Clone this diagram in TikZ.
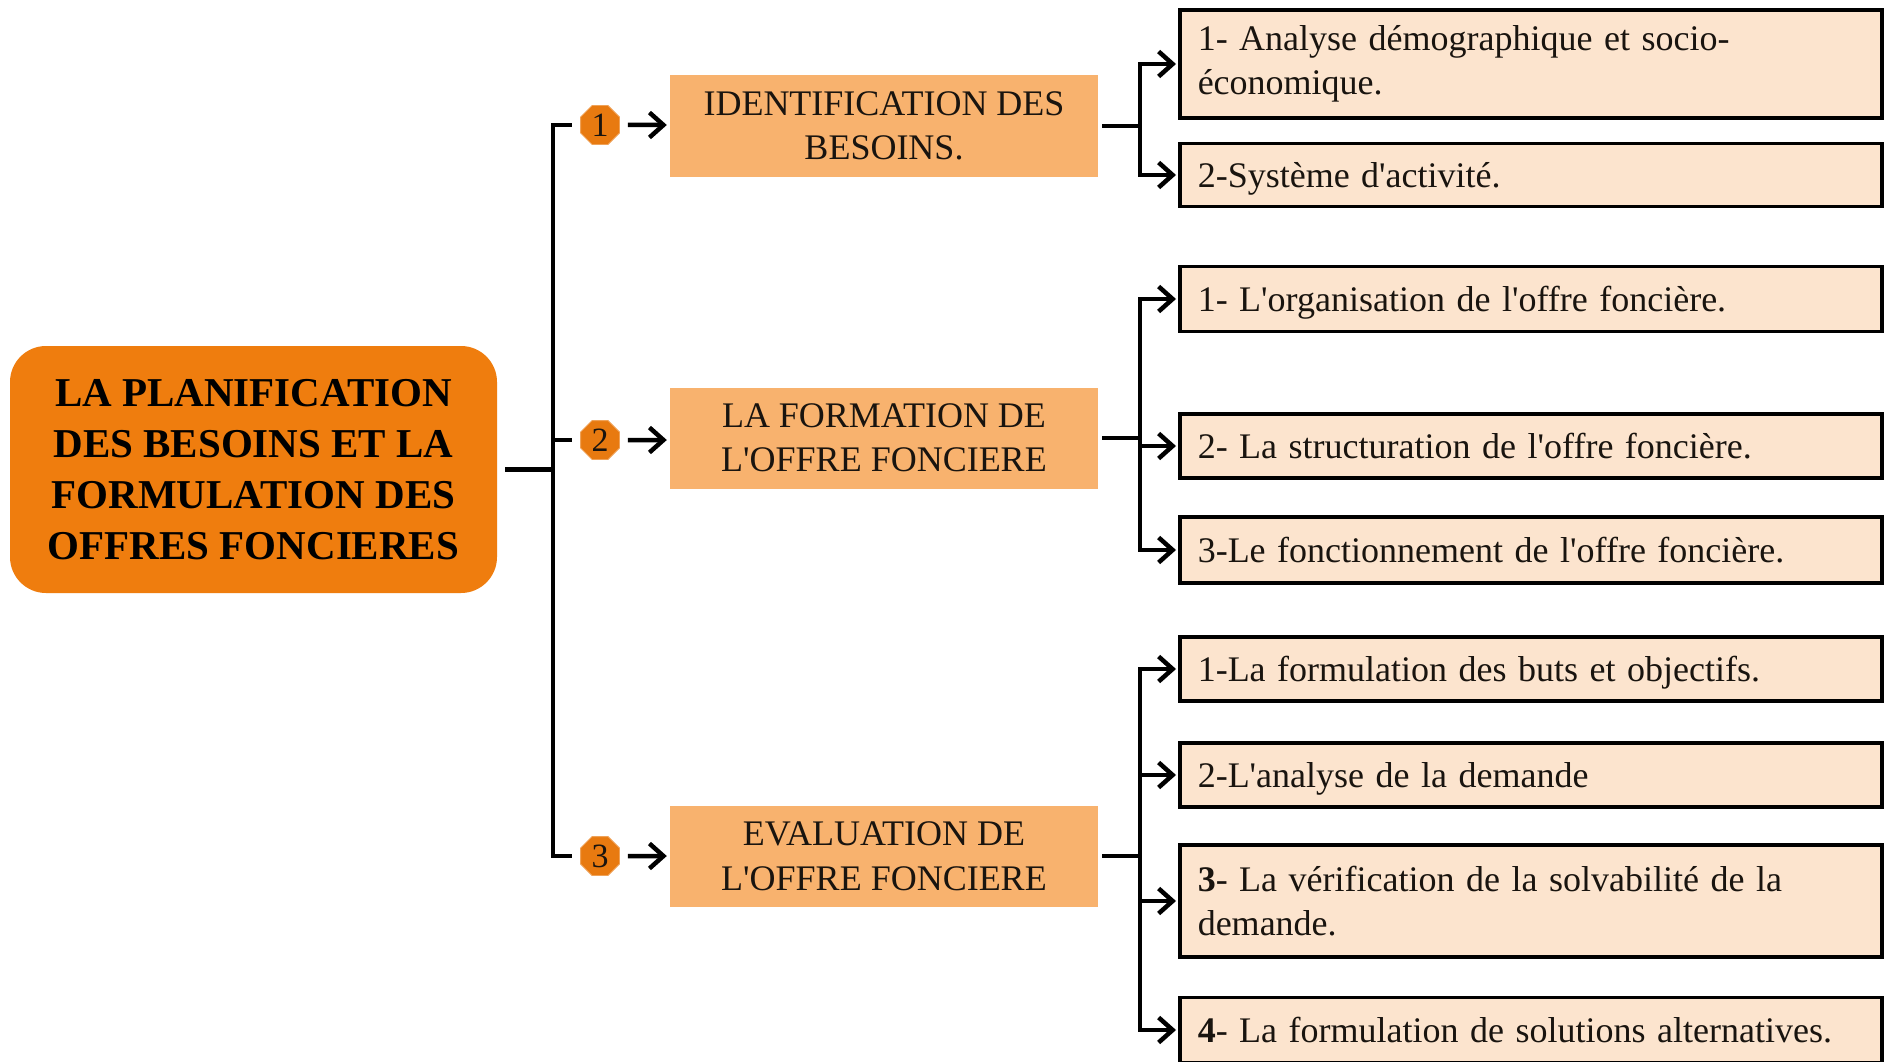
\documentclass[tikz,border=0pt]{standalone}
\usepackage{fontspec}
\setmainfont{Liberation Serif}[Ligatures=TeXOff]
\usetikzlibrary{arrows.meta,shapes.geometric}

\definecolor{rootorange}{RGB}{239,125,14}
\definecolor{stageorange}{RGB}{248,178,110}
\definecolor{leafpeach}{RGB}{252,228,206}
\definecolor{badgeorange}{RGB}{232,122,16}
\definecolor{inkdark}{RGB}{25,20,15}

\newcommand{\widewords}{\spaceskip=11.5pt plus 3pt minus 2pt\relax}

\begin{document}
\begin{tikzpicture}[x=1pt,y=-1pt,
  rootbox/.style={fill=rootorange, rounded corners=36pt, minimum width=487pt,
    minimum height=247pt, align=center, inner sep=0pt,
    font=\fontsize{41}{51}\selectfont\bfseries},
  stagebox/.style={fill=stageorange, minimum width=428pt, minimum height=101pt,
    align=center, inner sep=0pt, text=inkdark,
    font=\fontsize{36}{44.5}\selectfont},
  leafbox/.style={draw=black, line width=3.5pt, fill=leafpeach, anchor=west,
    text width=666pt, inner xsep=18pt, inner ysep=0pt, align=left, text=inkdark,
    font=\fontsize{36}{44.5}\selectfont, execute at begin node=\widewords},
  oneline/.style={leafbox, text depth=0pt},
  badge/.style={regular polygon, regular polygon sides=8, minimum size=42pt,
    fill=badgeorange, draw=badgeorange!70!white, line width=0.8pt, inner sep=0pt,
    text=inkdark, font=\fontsize{34}{34}\selectfont},
  conn/.style={line width=4.5pt, draw=black},
  arr/.style={conn, -{Straight Barb[length=14pt,width=25pt]}},
]
\fill[white] (0,0) rectangle (1885,1062);
\useasboundingbox (0,0) rectangle (1885,1062);

% root of the tree
\node[rootbox] (root) at (253.5,469.5)
  {LA PLANIFICATION\\DES BESOINS ET LA\\FORMULATION DES\\OFFRES FONCIERES};

% numbered badges
\node[badge] (b1) at (600,125) {1};
\node[badge] (b2) at (600,440) {2};
\node[badge] (b3) at (600,856) {3};

% stages
\node[stagebox] (s1) at (884,126) {IDENTIFICATION DES\\BESOINS.};
\node[stagebox] (s2) at (884,438) {LA FORMATION DE\\L'OFFRE  FONCIERE};
\node[stagebox] (s3) at (884,856) {EVALUATION DE\\L'OFFRE  FONCIERE};

% leaves of stage 1
\node[leafbox, minimum height=108pt] (a1) at (1178,64)
  {1- Analyse démographique et socio-\\économique.};
\node[oneline, minimum height=63pt] (a2) at (1178,175) {2-Système d'activité.};

% leaves of stage 2
\node[oneline, minimum height=65pt] (c1) at (1178,299) {1- L'organisation de l'offre foncière.};
\node[oneline, minimum height=64pt] (c2) at (1178,446) {2- La structuration de l'offre foncière.};
\node[oneline, minimum height=66pt] (c3) at (1178,550) {3-Le fonctionnement de l'offre foncière.};

% leaves of stage 3
\node[oneline, minimum height=64pt] (d1) at (1178,669) {1-La formulation des buts et objectifs.};
\node[oneline, minimum height=64pt] (d2) at (1178,775) {2-L'analyse de la demande};
\node[leafbox, minimum height=112pt] (d3) at (1178,901)
  {\textbf{3}- La vérification de la solvabilité de la\\demande.};
\node[oneline, minimum height=65pt] (d4) at (1178,1030)
  {\textbf{4}- La formulation de solutions alternatives.};

% junction points of the brackets
\coordinate (spine) at (553,469.5);
\coordinate (ja) at (1140,126);
\coordinate (jb) at (1140,438);
\coordinate (jc) at (1140,856);

% main bracket
\draw[conn, shorten <=8pt] (root.east) -- (spine);
\draw[conn, shorten >=8pt] (spine) |- (b1);
\draw[conn, shorten >=8pt] (spine) |- (b2);
\draw[conn, shorten >=8pt] (spine) |- (b3);

% badges to stages
\draw[arr, shorten <=8pt, shorten >=3pt] (b1) -- (b1 -| s1.west);
\draw[arr, shorten <=8pt, shorten >=3pt] (b2) -- (b2 -| s2.west);
\draw[arr, shorten <=8pt, shorten >=3pt] (b3) -- (b3 -| s3.west);

% stages to leaves
\draw[conn, shorten <=4pt] (s1.east) -- (ja);
\draw[arr, shorten >=2pt] (ja) |- (a1);
\draw[arr, shorten >=2pt] (ja) |- (a2);

\draw[conn, shorten <=4pt] (s2.east) -- (jb);
\draw[arr, shorten >=2pt] (jb) |- (c1);
\draw[arr, shorten >=2pt] (jb) |- (c2);
\draw[arr, shorten >=2pt] (jb) |- (c3);

\draw[conn, shorten <=4pt] (s3.east) -- (jc);
\draw[arr, shorten >=2pt] (jc) |- (d1);
\draw[arr, shorten >=2pt] (jc) |- (d2);
\draw[arr, shorten >=2pt] (jc) |- (d3);
\draw[arr, shorten >=2pt] (jc) |- (d4);
\end{tikzpicture}
\end{document}
